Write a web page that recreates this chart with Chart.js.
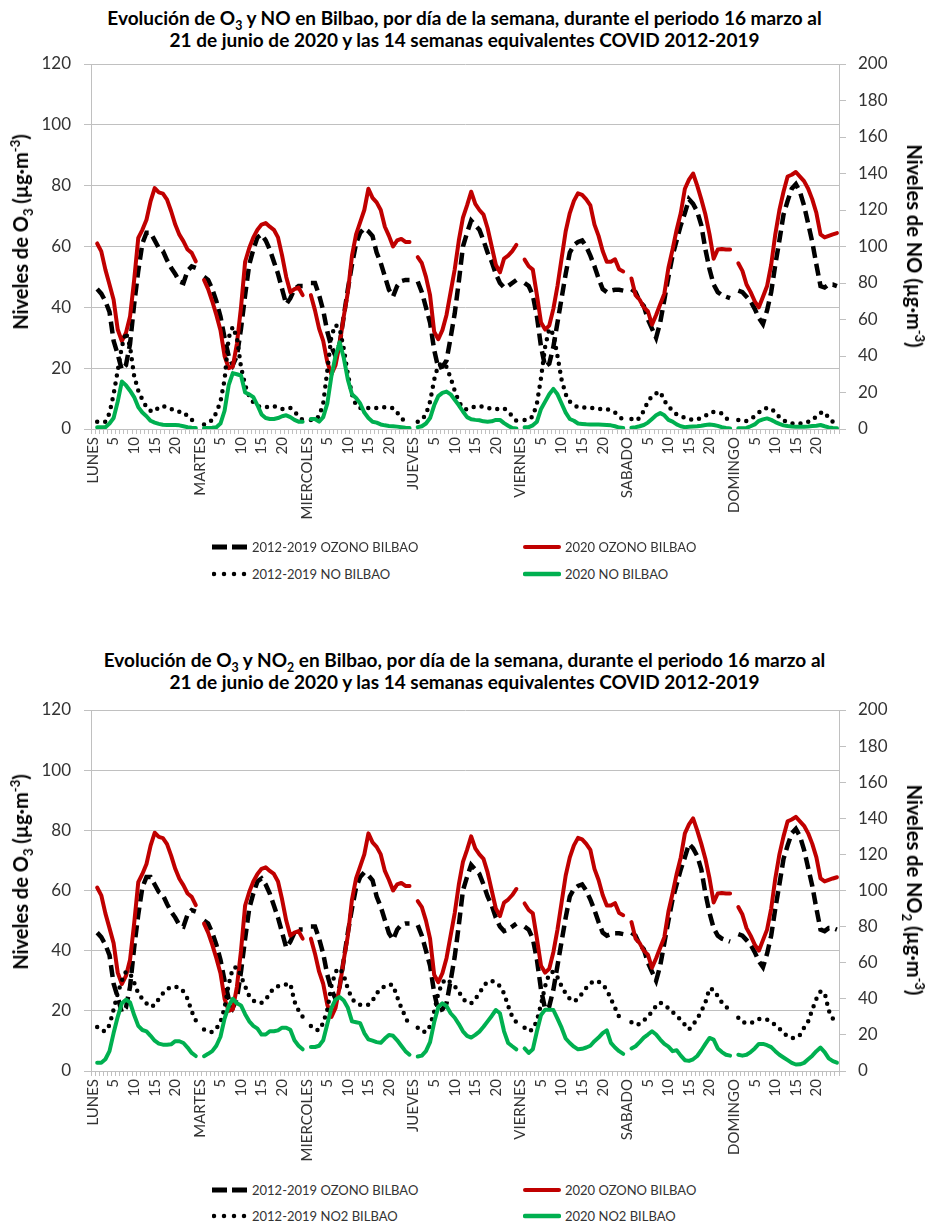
<!DOCTYPE html>
<html>
<head>
<meta charset="utf-8">
<script src="https://cdn.jsdelivr.net/npm/chart.js@4.4.0/dist/chart.umd.min.js"></script>
<style>
body { margin: 0; background: #fff; font-family: Lato, sans-serif; }
#page { position: relative; width: 929px; height: 1226px; overflow: hidden; }
.box { position: absolute; left: 0; width: 929px; }
.title { position: absolute; left: 0; width: 929px; text-align: center; font-weight: bold; font-size: 19px; line-height: 22px; color: #000; }
.ytitle { position: absolute; font-weight: bold; font-size: 20px; white-space: nowrap; color: #000; }
.ytitle.l { transform: translate(-50%, -50%) rotate(-90deg); }
.ytitle.r { transform: translate(-50%, -50%) rotate(90deg); }
.leg { position: absolute; font-size: 13px; color: #333; white-space: nowrap; transform: translateY(-50%); display: flex; align-items: center; }
.leg svg { margin-right: 4px; }
sub, sup { font-size: 65%; line-height: 0; }
</style>
</head>
<body>
<div id="page">
  <div class="title" style="top:7px">Evolución de O<sub>3</sub> y NO en Bilbao, por día de la semana, durante el periodo 16 marzo al<br>21 de junio de 2020 y las 14 semanas equivalentes COVID 2012-2019</div>
  <div class="box" style="top:0;height:540px"><canvas id="chart1"></canvas></div>
  <div class="ytitle l" style="left:20px;top:232px">Niveles de O<sub>3</sub> (µg·m<sup>-3</sup>)</div>
  <div class="ytitle r" style="left:915px;top:246px">Niveles de NO (µg·m<sup>-3</sup>)</div>
  <div id="legend1"></div>

  <div class="title" style="top:649px">Evolución de O<sub>3</sub> y NO<sub>2</sub> en Bilbao, por día de la semana, durante el periodo 16 marzo al<br>21 de junio de 2020 y las 14 semanas equivalentes COVID 2012-2019</div>
  <div class="box" style="top:600px;height:580px"><canvas id="chart2"></canvas></div>
  <div class="ytitle l" style="left:20px;top:872px">Niveles de O<sub>3</sub> (µg·m<sup>-3</sup>)</div>
  <div class="ytitle r" style="left:915px;top:890px">Niveles de NO<sub>2</sub> (µg·m<sup>-3</sup>)</div>
  <div id="legend2"></div>
</div>
<script>
const dias = ['LUNES', 'MARTES', 'MIERCOLES', 'JUEVES', 'VIERNES', 'SABADO', 'DOMINGO'];
// hours 1..25 of each day, only every 5th one is labelled
const horas = ['', '', '', '', '5', '', '', '', '', '10', '', '', '', '', '15', '', '', '', '', '20', '', '', '', '', ''];

// O3 (left axis), 25 values per day
const ozono1219 = [
    46, 44.5, 42, 38.5, 29, 24.5, 19.5, 21, 28, 41, 52, 61, 64.5, 64.5, 62, 59.5, 58.5, 55.5, 53, 51, 48.5, 48, 52, 53.5, 53,
    50, 49, 46, 42, 37, 30, 24, 21, 24, 33, 44, 54, 59, 63, 64, 62, 59, 55, 51, 46, 41, 43, 46, 47, 47,
    48, 48, 44, 39, 32, 27, 24, 28, 37, 46, 54, 61, 64.5, 66, 65, 63.4, 58, 54.6, 50.2, 45.8, 43.6, 47, 48.6, 49, 49,
    48.5, 45, 40, 35, 26, 20, 20.5, 22.5, 30, 38, 48.5, 60, 64.5, 68.5, 67, 65.5, 62, 58, 55, 51, 48, 46.5, 47, 48, 49,
    48, 47, 44, 37, 27, 20.5, 21.5, 27, 35, 43, 51, 58, 60.5, 61.5, 62, 60, 57, 53.5, 49.5, 46, 45, 45.5, 45.8, 45.8, 45.5,
    46, 45, 42, 40.5, 36, 33, 30, 35, 42.5, 50, 57, 62, 67, 71, 75.5, 74, 71.5, 67, 59, 52.5, 47.5, 45, 44, 43.5, 43,
    45.5, 45, 43.5, 42, 39.5, 36.5, 34.5, 39, 45, 54, 62, 70.5, 75, 79, 80.5, 78, 73.5, 67.5, 61.5, 54, 47, 46.5, 47.5, 47.5, 47
];
const ozono2020 = [
    61, 58.4, 52.4, 47.5, 42.5, 32.7, 28.9, 31.6, 37, 49, 62.8, 65.5, 68.8, 74.9, 79.2, 77.8, 77.4, 75.4, 71.6, 67.2, 63.9, 61.7, 59, 57.9, 55.1,
    49, 46, 42, 37.5, 32.5, 24, 20, 20.5, 28, 40, 55, 59.5, 63, 65.5, 67.2, 67.7, 66.5, 65.5, 63, 57, 50, 45, 46, 46.5, 44,
    44, 39, 33, 29, 22, 18, 21, 28, 37, 45, 57, 64, 68, 72, 79, 76, 74.5, 72, 66.5, 63.5, 60, 62, 62.5, 61.5, 61.5,
    56.5, 54.5, 50, 44, 32, 29.5, 32.5, 37.5, 45, 52.5, 62, 69.5, 73.5, 78, 74, 72, 70.5, 66, 60, 54, 51.5, 56, 57, 58.5, 60.5,
    55.7, 53.5, 52.4, 44, 35, 32.7, 34, 39.5, 47, 56, 65, 71, 75, 77.5, 77, 75.5, 73.5, 67.2, 63.5, 58.5, 55, 55, 55.8, 52.5, 51.8,
    49.5, 44, 42.5, 40, 38.7, 34.3, 37.5, 41, 44.5, 53, 59, 65.5, 71, 79, 82, 84, 80, 75.5, 70.5, 64, 56, 59, 59.2, 59, 59,
    54.5, 52, 47.5, 45, 42, 40, 43.5, 47, 54, 64, 72, 78, 83, 83.6, 84.5, 83, 81.5, 79, 75.5, 71, 64, 63, 63.5, 64, 64.4
];

// NO (right axis, top chart)
const no1219 = [
    4, 4, 4, 8.7, 19, 32, 45, 53, 45, 29, 21, 16, 12, 10, 9.5, 12, 12.5, 12, 11, 9.8, 9.5, 9.3, 7, 5, 3.5,
    2.5, 3.5, 5, 9, 15, 27, 50, 56, 50, 34, 24, 18, 14.5, 12.5, 12, 12, 12.3, 12.5, 11.5, 11, 11.2, 11.5, 9.5, 7, 5,
    5, 5, 7, 14, 32, 51, 57, 55, 44, 30, 19, 13, 11.5, 11, 11.5, 11.5, 11.5, 11.7, 12, 11.8, 11.5, 9, 6, 4, 3,
    4, 5, 8, 15, 27, 35, 36, 34, 28, 21, 15, 11.5, 10.7, 11.5, 12.3, 12.5, 12.2, 11.7, 11, 11, 11, 11.3, 9.5, 7, 4.5,
    5, 5, 7, 14, 28, 45, 55, 52, 40, 27, 19, 15, 13, 12, 12, 11.5, 11.5, 11.5, 11, 11, 11, 10, 9, 7, 5,
    5.5, 4.5, 6, 10, 15, 18, 19.5, 20.5, 15.5, 12.5, 10, 8, 7, 6.2, 5.5, 5, 5.3, 6.2, 7.2, 8.8, 9.4, 9, 8.5, 6, 4.5,
    4.9, 4.7, 4.4, 5.5, 7, 9, 11, 11.5, 11.3, 9, 6.5, 4.6, 3.8, 3, 2.8, 3, 3.2, 4, 4.7, 7, 8.8, 9.3, 6, 4, 3
];
const no2020 = [
    1, 1, 1, 3, 6, 15, 26, 24, 21, 17.5, 12, 9, 7, 4.5, 3.5, 2.8, 2.3, 2.2, 2.2, 2.2, 2, 1.5, 1, 0.7, 0.5,
    0.5, 0.5, 0.7, 1, 3, 10, 24, 30.6, 30, 29.3, 20, 19, 17.5, 13, 8, 6, 5.5, 5.5, 6, 7, 7.5, 6.5, 5, 4, 4,
    5.5, 5.5, 4, 6.5, 14, 29, 40, 47.5, 39, 27, 19, 17, 14, 9, 6, 4, 3.5, 2.5, 2, 1.7, 1.5, 1.3, 1, 0.7, 0.5,
    1, 1.5, 3, 6, 13, 18, 19.8, 20.5, 19, 16, 13, 9.6, 6.5, 5.3, 5, 4.8, 4.2, 4, 4.2, 5, 5, 3.2, 1.8, 0.5, 0.3,
    1, 1, 2, 4, 11, 15, 19, 22, 19, 14, 9, 5.5, 4.5, 3, 2.8, 2.6, 2.5, 2.4, 2.4, 2.3, 2.2, 2, 1.5, 0.8, 0.5,
    0.7, 1, 1.5, 2.2, 3.5, 5.5, 7.5, 8.7, 7.5, 5, 4, 2.5, 1.5, 1, 1.2, 1.4, 1.5, 1.8, 2.2, 2.5, 2.2, 1.7, 1, 0.6, 0.3,
    0.4, 0.4, 0.6, 1.5, 2.5, 4.5, 5.3, 5.8, 5, 3.8, 2.8, 2, 1.6, 1.4, 1.3, 1.3, 1.3, 1.4, 1.6, 1.8, 2.2, 1.5, 0.9, 0.6, 0.4
];

// NO2 (right axis, bottom chart)
const no21219 = [
    24.4, 22.5, 22, 25.5, 34, 43, 50, 55, 54, 49, 43, 40, 37.5, 35.5, 36.5, 40, 43, 45.3, 46.5, 46.7, 46.2, 44, 40, 33, 28,
    23, 22, 21.5, 23.5, 27, 35, 48, 57, 57.6, 52.5, 47, 41.5, 39, 37.8, 37.8, 39.5, 43, 46, 47, 47.5, 48, 48.4, 38.5, 33.5, 30,
    25, 23, 22.5, 26.6, 34, 47, 55, 57, 53, 45.5, 40, 37.5, 36.7, 36.7, 36.7, 39, 43, 45.5, 47, 48, 47.5, 41, 35, 30, 25,
    24, 22, 21.5, 25, 33, 43, 49, 51, 49, 47, 44, 40, 38, 37.5, 40, 43, 47, 49.5, 50, 49, 47, 43, 36, 30, 27,
    24, 22, 23, 28, 37, 47, 54, 55, 52, 47, 43, 40, 38.5, 40, 43, 46, 48.5, 50, 49.5, 48, 45, 40, 35, 30, 27,
    27, 25.5, 26, 28, 30, 33, 36, 38, 36.5, 34.8, 32.5, 31, 28, 25.7, 23, 25.7, 29, 33, 38, 45.8, 45, 41.5, 38, 35.6, 33.8,
    29.5, 27, 26.6, 26.6, 27.5, 28.8, 28.8, 28.5, 27, 25.5, 23.5, 21, 19.3, 18.3, 18.3, 20, 24, 27.5, 34, 40, 44, 43.5, 33.5, 29, 28
];
const no22020 = [
    4.6, 4.6, 6.5, 11, 21, 30, 37.5, 39.5, 38, 31, 25, 22.7, 22, 19.5, 16.8, 15.2, 14.6, 14.6, 14.8, 16.5, 16.5, 15.5, 13, 10, 8.3,
    8.2, 9.5, 11, 14, 19, 29, 36, 40, 37.5, 36.3, 31.5, 27.5, 25, 23.5, 20.2, 20.2, 22, 22, 22.5, 24, 24, 22.8, 17, 14, 12,
    13.3, 13.3, 14, 17, 26, 35, 39.5, 41, 39, 35, 27.5, 27, 26.5, 21, 17.5, 16.8, 16, 15.6, 18, 20, 19.5, 17, 14, 11, 9,
    8, 8.5, 11, 16, 27, 35.5, 37.5, 36, 32, 29.5, 26, 22, 19.5, 18.5, 20, 21.8, 24.5, 27.5, 30.5, 33.8, 32, 22, 15.5, 13.7, 12,
    12.5, 10, 12, 22, 31, 34, 34, 33.8, 29, 24, 18, 15.5, 13.5, 12, 12.3, 13, 14, 16.5, 18.5, 21, 22.5, 15.6, 13, 11, 9.5,
    12.5, 13.7, 16, 18.5, 20.2, 22, 20.2, 17.4, 15, 13.5, 11, 11.5, 8.5, 6, 5.6, 6.5, 8.3, 11.5, 15, 18.3, 17.4, 12.5, 10.5, 9, 8.5,
    9, 8.5, 9, 10.5, 12.5, 15, 15, 14.3, 13.2, 11, 9, 7.5, 6, 4.5, 3.6, 3.7, 4.5, 6.5, 8.5, 11, 13, 10.5, 7, 5.5, 4.6
];

const labels = dias.flatMap(d => [d, ...horas]);

// one empty slot at the start of every day so each day is its own line
function byDay(values) {
    const out = [];
    for (let d = 0; d < 7; d++) {
        out.push(null);
        out.push(...values.slice(d * 25, d * 25 + 25));
    }
    return out;
}

const GRID = '#c0c0c0';
const TXT = '#333';

function makeChart(id, boxTop, plotTop, plotBottom, boxHeight, noName, noHist, noNew) {
    const xHeight = boxTop + boxHeight - plotBottom;
    return new Chart(document.getElementById(id).getContext('2d'), {
        type: 'line',
        data: {
            labels: labels,
            datasets: [{
                label: '2012-2019 OZONO BILBAO',
                data: byDay(ozono1219),
                borderColor: '#000',
                borderWidth: 4.5,
                borderDash: [12, 6],
                yAxisID: 'y',
                order: 3
            }, {
                label: '2020 OZONO BILBAO',
                data: byDay(ozono2020),
                borderColor: '#c00000',
                borderWidth: 4,
                borderCapStyle: 'round',
                borderJoinStyle: 'round',
                yAxisID: 'y',
                order: 2
            }, {
                label: '2012-2019 ' + noName + ' BILBAO',
                data: byDay(noHist),
                borderColor: '#000',
                borderWidth: 4.5,
                borderDash: [0, 8],
                borderCapStyle: 'round',
                yAxisID: 'y2',
                order: 1
            }, {
                label: '2020 ' + noName + ' BILBAO',
                data: byDay(noNew),
                borderColor: '#00b050',
                borderWidth: 4,
                borderCapStyle: 'round',
                borderJoinStyle: 'round',
                yAxisID: 'y2',
                order: 0
            }]
        },
        options: {
            responsive: true,
            maintainAspectRatio: false,
            animation: false,
            elements: { point: { radius: 0 }, line: { tension: 0 } },
            layout: { padding: { top: plotTop - boxTop, left: 0, right: 0, bottom: 0 } },
            plugins: { legend: { display: false }, tooltip: { enabled: false } },
            scales: {
                x: {
                    type: 'category',
                    offset: true,
                    grid: { offset: true, drawOnChartArea: false, tickLength: 5, color: GRID },
                    border: { color: GRID },
                    ticks: {
                        autoSkip: false, maxRotation: 90, minRotation: 90, padding: 3,
                        color: TXT, font: { family: 'Lato', size: 15 }
                    },
                    afterFit: s => { s.height = xHeight; }
                },
                y: {
                    position: 'left',
                    min: 0, max: 120,
                    ticks: { stepSize: 20, padding: 13, color: TXT, font: { family: 'Lato', size: 17 } },
                    grid: { color: GRID, tickLength: 7 },
                    border: { color: GRID },
                    afterFit: s => { s.width = 91; }
                },
                y2: {
                    position: 'right',
                    min: 0, max: 200,
                    ticks: { stepSize: 20, padding: 12, color: TXT, font: { family: 'Lato', size: 17 } },
                    grid: { drawOnChartArea: false, color: GRID, tickLength: 7 },
                    border: { color: GRID },
                    afterFit: s => { s.width = 90; }
                }
            }
        }
    });
}

makeChart('chart1', 0, 64, 429, 540, 'NO', no1219, no2020);
makeChart('chart2', 600, 710, 1071, 580, 'NO2', no21219, no22020);

// legend: two rows, two columns, drawn as html
const marks = {
    dash: '<svg width="36" height="10"><line x1="0" y1="5" x2="35" y2="5" stroke="#000" stroke-width="5" stroke-dasharray="15 5"/></svg>',
    red: '<svg width="38" height="10"><line x1="2" y1="5" x2="36" y2="5" stroke="#c00000" stroke-width="4" stroke-linecap="round"/></svg>',
    dot: '<svg width="36" height="10"><line x1="2" y1="5" x2="34" y2="5" stroke="#000" stroke-width="4.5" stroke-linecap="round" stroke-dasharray="0 10"/></svg>',
    green: '<svg width="38" height="10"><line x1="2" y1="5" x2="36" y2="5" stroke="#00b050" stroke-width="4.5" stroke-linecap="round"/></svg>'
};
function legend(id, row1, row2, noName) {
    const items = [
        [212, row1, marks.dash, '2012-2019 OZONO BILBAO'],
        [523, row1, marks.red, '2020 OZONO BILBAO'],
        [212, row2, marks.dot, '2012-2019 ' + noName + ' BILBAO'],
        [523, row2, marks.green, '2020 ' + noName + ' BILBAO']
    ];
    document.getElementById(id).innerHTML = items.map(it =>
        '<div class="leg" style="left:' + it[0] + 'px;top:' + it[1] + 'px">' + it[2] + '<span>' + it[3] + '</span></div>'
    ).join('');
}
legend('legend1', 547, 574, 'NO');
legend('legend2', 1190, 1216, 'NO2');
</script>
</body>
</html>
